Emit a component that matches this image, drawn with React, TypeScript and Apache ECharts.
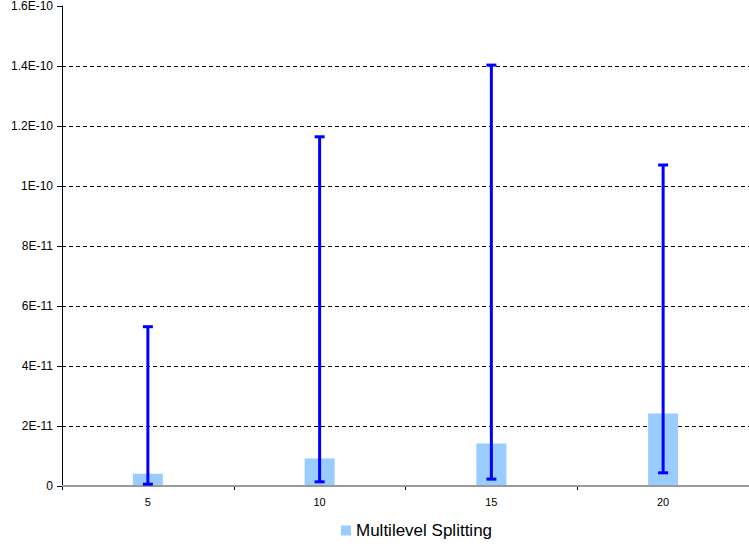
import React, { useEffect, useRef } from "react";
import * as echarts from "echarts";

const categories = ["5", "10", "15", "20"];
const barValues = [4.1e-12, 9.2e-12, 1.42e-11, 2.42e-11];
const errLow = [6e-13, 1.4e-12, 2.3e-12, 4.4e-12];
const errHigh = [5.31e-11, 1.164e-10, 1.403e-10, 1.07e-10];
const yTickLabels = ["0", "2E-11", "4E-11", "6E-11", "8E-11", "1E-10", "1.2E-10", "1.4E-10", "1.6E-10"];
const seriesName = "Multilevel Splitting";

export default function App() {
  const ref = useRef<HTMLDivElement>(null);
  useEffect(() => {
    if (!ref.current) return;
    const chart = echarts.init(ref.current, null, { renderer: "svg" });
    const step = 2e-11;
    const errData = categories.map((_, i) => [i, errLow[i], errHigh[i]]);
    const font = "Arial, 'Liberation Sans', sans-serif";
    chart.setOption({
      animation: false,
      textStyle: { fontFamily: font },
      grid: { left: 62, right: -5, top: 6, bottom: 58, containLabel: false },
      legend: {
        bottom: 0,
        left: 336,
        itemWidth: 10,
        itemHeight: 10,
        itemGap: 6,
        icon: "rect",
        textStyle: { fontSize: 17, color: "#000", fontFamily: font },
        data: [{ name: seriesName }],
      },
      xAxis: {
        type: "category",
        data: categories,
        boundaryGap: true,
        axisLine: { lineStyle: { color: "#000", width: 1 } },
        axisTick: { show: true, length: 4, lineStyle: { color: "#000" } },
        axisLabel: { color: "#000", fontSize: 11, margin: 10, fontFamily: font },
      },
      yAxis: {
        type: "value",
        min: 0,
        max: 1.6e-10,
        interval: step,
        axisLine: { show: true, lineStyle: { color: "#000", width: 1 } },
        axisTick: { show: true, length: 5, lineStyle: { color: "#000" } },
        axisLabel: {
          color: "#000",
          fontSize: 12,
          margin: 9,
          fontFamily: font,
          formatter: (v: number) => yTickLabels[Math.round(v / step)] ?? "",
        },
        splitLine: {
          show: true,
          showMinLine: false,
          showMaxLine: false,
          lineStyle: { color: "#000", type: [4, 3], width: 1 },
        },
      },
      series: [
        {
          name: seriesName,
          type: "bar",
          data: barValues,
          barWidth: 30,
          itemStyle: { color: "#99CCFF" },
          markLine: {
            silent: true,
            symbol: "none",
            label: { show: false },
            lineStyle: { color: "#999", type: "solid", width: 2 },
            data: [{ yAxis: 1.6e-10 }],
          },
        },
        {
          name: "err",
          type: "custom",
          data: errData,
          z: 5,
          renderItem: (params: any, api: any) => {
            const x = api.value(0);
            const lo = api.coord([x, api.value(1)]);
            const hi = api.coord([x, api.value(2)]);
            const hw = 5;
            const style = { stroke: "#0000FF", lineWidth: 3 };
            return {
              type: "group",
              children: [
                { type: "line", shape: { x1: lo[0], y1: lo[1], x2: hi[0], y2: hi[1] }, style },
                { type: "line", shape: { x1: hi[0] - hw, y1: hi[1], x2: hi[0] + hw, y2: hi[1] }, style },
                { type: "line", shape: { x1: lo[0] - hw, y1: lo[1], x2: lo[0] + hw, y2: lo[1] }, style },
              ],
            };
          },
        },
      ],
    });
    return () => chart.dispose();
  }, []);
  return (
    <div
      ref={ref}
      style={{ position: "absolute", left: 0, top: 0, width: 749, height: 544, background: "#fff" }}
    />
  );
}
